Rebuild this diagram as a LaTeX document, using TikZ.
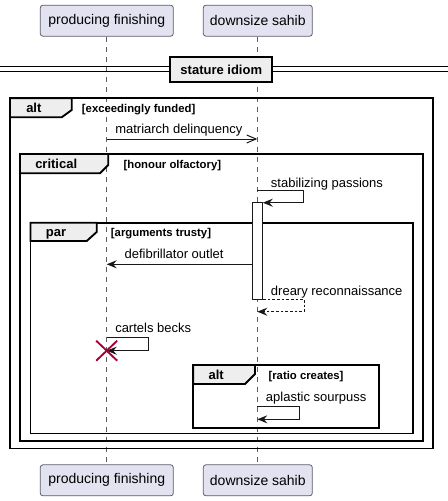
\documentclass[tikz,border=0pt]{standalone}
\usepackage{fontspec}
\setmainfont{Liberation Sans}
\usetikzlibrary{arrows.meta,calc}
\definecolor{partfill}{HTML}{E2E2F0}
\definecolor{partdraw}{HTML}{5B5B6B}
\definecolor{tabfill}{HTML}{EEEEEE}
\definecolor{ink}{HTML}{181818}
\definecolor{xred}{HTML}{A80036}
\tikzset{
  partbox/.style={draw=partdraw, fill=partfill, line width=0.6pt, rounded corners=2pt, font=\fontsize{10.5pt}{12pt}\selectfont, inner sep=0pt, minimum height=23.25pt},
  lifeline/.style={draw=ink!70, line width=0.5pt, dash pattern=on 3.75pt off 3.75pt},
  frm/.style={draw=black, line width=1.4pt},
  tabshape/.style={draw=black, fill=tabfill, line width=1.4pt},
  grplabel/.style={font=\bfseries\fontsize{9.75pt}{11pt}\selectfont, anchor=base west, inner sep=0pt},
  condlabel/.style={font=\bfseries\fontsize{8.5pt}{10pt}\selectfont, anchor=base west, inner sep=0pt},
  msglabel/.style={font=\fontsize{9.75pt}{11pt}\selectfont, anchor=base west, inner sep=0pt},
  msg/.style={draw=ink, line width=0.75pt, -{Stealth[length=7.5pt,width=6pt,inset=2.6pt]}},
  openmsg/.style={draw=ink, line width=0.75pt, -{Straight Barb[length=7pt,width=6pt,line width=0.75pt]}},
  retmsg/.style={msg, dash pattern=on 2pt off 1.5pt},
  actbar/.style={draw=ink, fill=white, line width=0.75pt},
}
\begin{document}
\begin{tikzpicture}[x=0.75pt,y=-0.75pt]
\useasboundingbox (0,0) rectangle (448,501);
% participants
\node[partbox, minimum width=99.75pt] (pfT) at (106.8,20.7) {producing finishing};
\node[partbox, minimum width=81.75pt] (dsT) at (257.8,20.7) {downsize sahib};
\node[partbox, minimum width=99.75pt] (pfB) at (106.8,480.3) {producing finishing};
\node[partbox, minimum width=81.75pt] (dsB) at (257.8,480.3) {downsize sahib};
\coordinate (pfx) at (106.7,0);
\coordinate (dsx) at (257.3,0);
\draw[lifeline] (pfT.south -| pfx) -- (pfB.north -| pfx);
\draw[lifeline] (dsT.south -| dsx) -- (dsB.north -| dsx);
% divider
\draw[line width=1pt] (0,66.7) -- (448,66.7);
\draw[line width=1pt] (0,71.3) -- (448,71.3);
\node[draw=black, fill=tabfill, line width=1.4pt, minimum width=76.5pt, minimum height=18.3pt, inner sep=0pt, font=\bfseries\fontsize{9.75pt}{11pt}\selectfont] (div) at (221.3,69.5) {stature idiom};
% outer alt frame
\draw[frm] (10,98.3) rectangle (433.3,448.5);
\draw[tabshape] (10,98.3) -- (71.7,98.3) -- (71.7,110) -- (61.7,117.3) -- (10,117.3) -- cycle;
\node[grplabel] (altA) at (26,112.5) {alt};
\node[condlabel] (condA) at (81.7,112.3) {[exceedingly funded]};
% message 1
\coordinate (m1a) at (106.7,139);
\coordinate (m1b) at (257.3,139);
\draw[openmsg] (m1a) -- (m1b);
\node[msglabel] (m1l) at (115,133.5) {matriarch delinquency};
% critical frame
\draw[frm] (20,154) rectangle (422.7,440.8);
\draw[tabshape] (20,154) -- (108.3,154) -- (108.3,165) -- (100,173.3) -- (20,173.3) -- cycle;
\node[grplabel] (critL) at (35,168.8) {critical};
\node[condlabel] (condC) at (123.3,168.6) {[honour olfactory]};
% stabilizing passions
\coordinate (s1) at (257.3,190.7);
\coordinate (s2) at (303.8,190.7);
\coordinate (s3) at (303.8,202.7);
\coordinate (s4) at (262.8,202.7);
\draw[msg] (s1) -- (s2) -- (s3) -- (s4);
\node[msglabel] (sl) at (270.7,187.3) {stabilizing passions};
% par frame
\draw[frm] (30.5,222.7) rectangle (413.3,433.5);
\draw[tabshape] (30.5,222.7) -- (96.7,222.7) -- (96.7,232) -- (86.7,241) -- (30.5,241) -- cycle;
\node[grplabel] (parL) at (45.7,236.8) {par};
\node[condlabel] (condP) at (110.7,236.8) {[arguments trusty]};
% activation
\node[actbar, minimum width=7.5pt, minimum height=73pt, inner sep=0pt] (act) at (257.5,251.3) {};
% defibrillator outlet
\coordinate (d2) at (106.7,264.3);
\draw[msg] (act.west |- d2) -- (d2);
\node[msglabel] (dl) at (124.3,258.7) {defibrillator outlet};
% dreary reconnaissance
\coordinate (r2) at (304.3,299.3);
\coordinate (r3) at (304.3,311.7);
\coordinate (r4) at (257.3,311.7);
\draw[retmsg] (act.east |- r2) -- (r2) -- (r3) -- (r4);
\node[msglabel] (rl) at (270.7,295.8) {dreary reconnaissance};
% cartels becks
\coordinate (c1) at (106.7,337.3);
\coordinate (c2) at (148.3,337.3);
\coordinate (c3) at (148.3,350.7);
\coordinate (c4) at (106.7,350.7);
\draw[msg] (c1) -- (c2) -- (c3) -- (c4);
\node[msglabel] (cl) at (115,332.3) {cartels becks};
\draw[xred, line width=1.4pt] ($(c4)+(-10.5,-10)$) -- ($(c4)+(10.5,10)$) ($(c4)+(-10.5,10)$) -- ($(c4)+(10.5,-10)$);
% inner alt frame
\draw[frm] (193.3,365) rectangle (379,427.7);
\draw[tabshape] (193.3,365) -- (255,365) -- (255,374) -- (245,384) -- (193.3,384) -- cycle;
\node[grplabel] (altB) at (208.3,379.3) {alt};
\node[condlabel] (condB) at (268.3,379) {[ratio creates]};
% aplastic sourpuss
\coordinate (a1) at (257.3,406.7);
\coordinate (a2) at (299.3,406.7);
\coordinate (a3) at (299.3,419.3);
\coordinate (a4) at (257.3,419.3);
\draw[msg] (a1) -- (a2) -- (a3) -- (a4);
\node[msglabel] (al) at (265.7,401.7) {aplastic sourpuss};
\end{tikzpicture}
\end{document}
